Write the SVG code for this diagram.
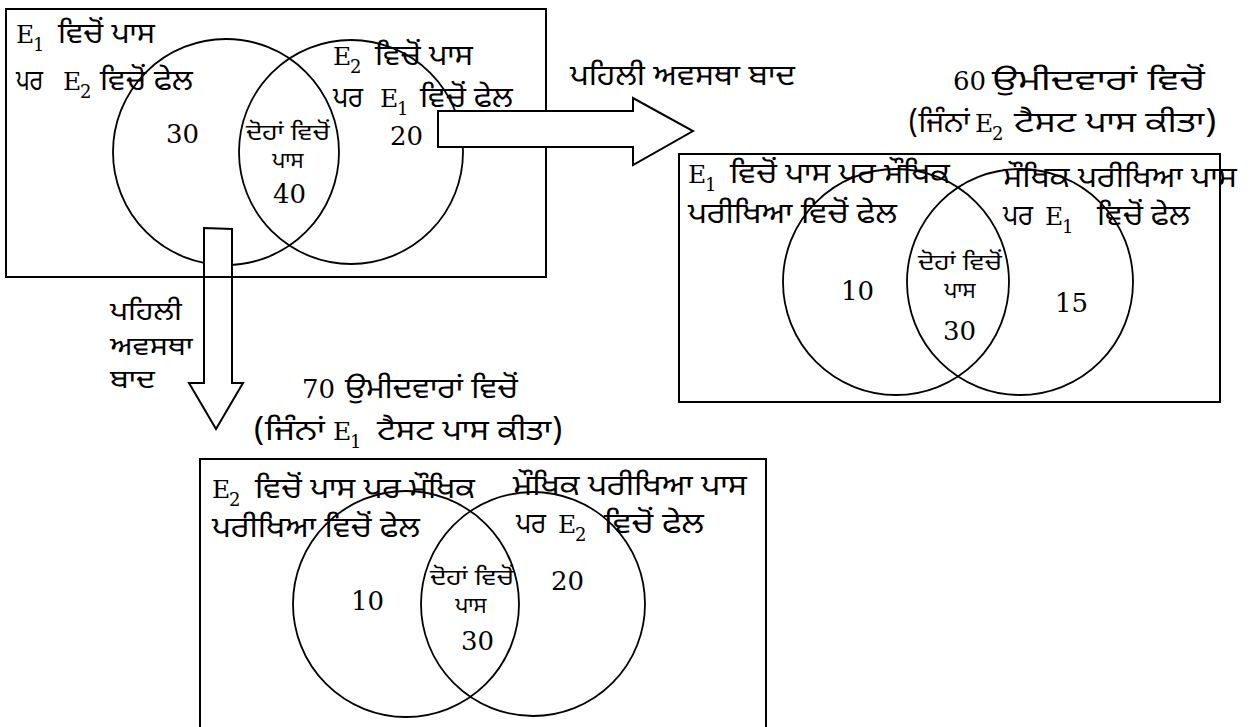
<svg xmlns="http://www.w3.org/2000/svg" width="1252" height="727" viewBox="0 0 1252 727">
<style>
.b{fill:none;stroke:#000;stroke-width:2}
.c{fill:none;stroke:#000;stroke-width:1.8}
.ar{fill:#fff;stroke:#000;stroke-width:2;stroke-linejoin:miter}
text{fill:#000}
.g{font-family:"Noto Sans Gurmukhi","Lohit Gurmukhi","Raavi","Noto Sans",sans-serif;font-size:29px}
.gd{font-family:"Noto Sans Gurmukhi","Lohit Gurmukhi","Raavi","Noto Sans",sans-serif;font-size:25px}
.gs{font-family:"Noto Sans Gurmukhi","Lohit Gurmukhi","Raavi","Noto Sans",sans-serif;font-size:22px}
.s{font-family:"DejaVu Serif","Liberation Serif",serif;font-size:25px}
.sub{font-family:"DejaVu Serif","Liberation Serif",serif;font-size:18px}
.n{font-family:"DejaVu Serif","Liberation Serif",serif;font-size:26px}
</style>
<rect width="1252" height="727" fill="#fff"/>

<g id="box1">
  <circle class="c" cx="226" cy="152" r="113"/>
  <circle class="c" cx="351" cy="152" r="112"/>
</g>

<g id="connectors">
  <polygon id="arrow-down" class="ar" points="204,228 232,229 232,383 243,383 216,429 189,383 204,383"/>
</g>

<g id="box1-frame">
  <rect class="b" x="6" y="9" width="540" height="268"/>
  <text class="s" x="16" y="43">E</text><text class="sub" x="33" y="51">1</text>
  <text class="g" x="58" y="43" textLength="97" lengthAdjust="spacingAndGlyphs">ਵਿਚੋਂ ਪਾਸ</text>
  <text class="g" x="16" y="90" textLength="27" lengthAdjust="spacingAndGlyphs">ਪਰ</text>
  <text class="s" x="63" y="90">E</text><text class="sub" x="80" y="98">2</text>
  <text class="g" x="100" y="90" textLength="93" lengthAdjust="spacingAndGlyphs">ਵਿਚੋਂ ਫੇਲ</text>
  <text class="s" x="333" y="65">E</text><text class="sub" x="350" y="73">2</text>
  <text class="g" x="375" y="65" textLength="98" lengthAdjust="spacingAndGlyphs">ਵਿਚੋਂ ਪਾਸ</text>
  <text class="g" x="333" y="107" textLength="30" lengthAdjust="spacingAndGlyphs">ਪਰ</text>
  <text class="s" x="380" y="107">E</text><text class="sub" x="397" y="115">1</text>
  <text class="g" x="420" y="107" textLength="93" lengthAdjust="spacingAndGlyphs">ਵਿਚੋਂ ਫੇਲ</text>
  <text class="gs" x="246" y="140" textLength="84" lengthAdjust="spacingAndGlyphs">ਦੋਹਾਂ ਵਿਚੋਂ</text>
  <text class="gs" x="288" y="168" text-anchor="middle">ਪਾਸ</text>
  <text class="n" x="273" y="203">40</text>
  <text class="n" x="166" y="143">30</text>
  <text class="n" x="390" y="145">20</text>
</g>

<g id="connectors-right">
  <polygon id="arrow-right" class="ar" points="438,111 633,111 633,98 693,131 633,165 633,147 438,147"/>
</g>

<g id="label-right-arrow">
  <text class="g" x="570" y="85" textLength="225" lengthAdjust="spacingAndGlyphs">ਪਹਿਲੀ ਅਵਸਥਾ ਬਾਦ</text>
</g>
<g id="label-down-arrow">
  <text class="gd" x="110" y="320" textLength="72" lengthAdjust="spacingAndGlyphs">ਪਹਿਲੀ</text>
  <text class="gd" x="110" y="355" textLength="83" lengthAdjust="spacingAndGlyphs">ਅਵਸਥਾ</text>
  <text class="gd" x="110" y="388" textLength="45" lengthAdjust="spacingAndGlyphs">ਬਾਦ</text>
</g>

<g id="box2">
  <text class="n" x="953" y="90">60</text>
  <text class="g" x="992" y="90" textLength="213" lengthAdjust="spacingAndGlyphs">ਉਮੀਦਵਾਰਾਂ ਵਿਚੋਂ</text>
  <text class="g" x="908" y="132" textLength="62" lengthAdjust="spacingAndGlyphs">(ਜਿੰਨਾਂ</text>
  <text class="s" x="975" y="132">E</text><text class="sub" x="992" y="140">2</text>
  <text class="g" x="1014" y="132" textLength="203" lengthAdjust="spacingAndGlyphs">ਟੈਸਟ ਪਾਸ ਕੀਤਾ)</text>
  <rect class="b" x="679" y="154" width="541" height="248"/>
  <circle class="c" cx="896" cy="282" r="113"/>
  <circle class="c" cx="1020" cy="282" r="113"/>
  <text class="s" x="688" y="183">E</text><text class="sub" x="705" y="191">1</text>
  <text class="g" x="730" y="183" textLength="220" lengthAdjust="spacingAndGlyphs">ਵਿਚੋਂ ਪਾਸ ਪਰ ਮੌਖਿਕ</text>
  <text class="g" x="688" y="223" textLength="209" lengthAdjust="spacingAndGlyphs">ਪਰੀਖਿਆ ਵਿਚੋਂ ਫੇਲ</text>
  <text class="g" x="1003" y="187" textLength="234" lengthAdjust="spacingAndGlyphs">ਮੌਖਿਕ ਪਰੀਖਿਆ ਪਾਸ</text>
  <text class="g" x="1003" y="225" textLength="30" lengthAdjust="spacingAndGlyphs">ਪਰ</text>
  <text class="s" x="1045" y="225">E</text><text class="sub" x="1062" y="233">1</text>
  <text class="g" x="1097" y="225" textLength="93" lengthAdjust="spacingAndGlyphs">ਵਿਚੋਂ ਫੇਲ</text>
  <text class="gs" x="918" y="270" textLength="84" lengthAdjust="spacingAndGlyphs">ਦੋਹਾਂ ਵਿਚੋਂ</text>
  <text class="gs" x="960" y="298" text-anchor="middle">ਪਾਸ</text>
  <text class="n" x="943" y="340">30</text>
  <text class="n" x="841" y="300">10</text>
  <text class="n" x="1055" y="312">15</text>
</g>

<g id="box3">
  <text class="n" x="302" y="398">70</text>
  <text class="g" x="345" y="398" textLength="173" lengthAdjust="spacingAndGlyphs">ਉਮੀਦਵਾਰਾਂ ਵਿਚੋਂ</text>
  <text class="g" x="253" y="440" textLength="72" lengthAdjust="spacingAndGlyphs">(ਜਿੰਨਾਂ</text>
  <text class="s" x="333" y="440">E</text><text class="sub" x="350" y="448">1</text>
  <text class="g" x="377" y="440" textLength="186" lengthAdjust="spacingAndGlyphs">ਟੈਸਟ ਪਾਸ ਕੀਤਾ)</text>
  <path class="b" d="M200,730 V459 H766 V730"/>
  <circle class="c" cx="406" cy="604" r="113"/>
  <circle class="c" cx="533" cy="604" r="112"/>
  <text class="s" x="212" y="498">E</text><text class="sub" x="229" y="506">2</text>
  <text class="g" x="255" y="498" textLength="220" lengthAdjust="spacingAndGlyphs">ਵਿਚੋਂ ਪਾਸ ਪਰ ਮੌਖਿਕ</text>
  <text class="g" x="212" y="537" textLength="208" lengthAdjust="spacingAndGlyphs">ਪਰੀਖਿਆ ਵਿਚੋਂ ਫੇਲ</text>
  <text class="g" x="513" y="495" textLength="234" lengthAdjust="spacingAndGlyphs">ਮੌਖਿਕ ਪਰੀਖਿਆ ਪਾਸ</text>
  <text class="g" x="516" y="533" textLength="30" lengthAdjust="spacingAndGlyphs">ਪਰ</text>
  <text class="s" x="558" y="533">E</text><text class="sub" x="575" y="541">2</text>
  <text class="g" x="604" y="533" textLength="100" lengthAdjust="spacingAndGlyphs">ਵਿਚੋਂ ਫੇਲ</text>
  <text class="gs" x="430" y="585" textLength="84" lengthAdjust="spacingAndGlyphs">ਦੋਹਾਂ ਵਿਚੋਂ</text>
  <text class="gs" x="471" y="613" text-anchor="middle">ਪਾਸ</text>
  <text class="n" x="461" y="650">30</text>
  <text class="n" x="351" y="610">10</text>
  <text class="n" x="551" y="590">20</text>
</g>
</svg>
